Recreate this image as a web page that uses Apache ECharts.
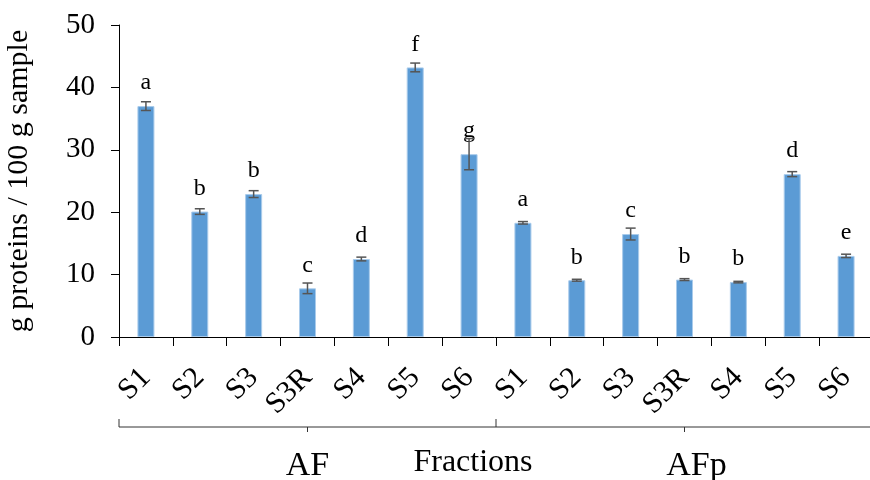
<!DOCTYPE html>
<html><head><meta charset="utf-8">
<script src="https://cdn.jsdelivr.net/npm/echarts@6/dist/echarts.min.js"></script>
<style>html,body{margin:0;padding:0;background:#fff}#c{width:870px;height:480px}</style>
</head><body><div id="c"></div>
<script>
const categories = ['S1','S2','S3','S3R','S4','S5','S6','S1','S2','S3','S3R','S4','S5','S6'];
const groups = ['AF','AFp'];
const groupSize = 7;
const means = [37.0,20.1,22.9,7.8,12.5,43.2,29.3,18.3,9.1,16.5,9.2,8.8,26.1,13.0];
const errors = [0.7,0.45,0.55,0.85,0.3,0.7,2.5,0.2,0.15,0.95,0.15,0.12,0.4,0.27];
const letters = ['a','b','b','c','d','f','g','a','b','c','b','b','d','e'];
const yMin = 0, yMax = 50, yInterval = 10;
const yName = 'g proteins / 100 g sample';
const xName = 'Fractions';

const FONT = '"Liberation Serif", "Times New Roman", serif';
const chart = echarts.init(document.getElementById('c'), null, {renderer:'canvas'});
const errData = means.map((m,i)=>[i,m,errors[i]]);

chart.setOption({
  animation:false,
  backgroundColor:'#fff',
  grid:{left:119, top:25, width:754, height:312, containLabel:false, outerBoundsMode:'none'},
  xAxis:{
    type:'category', data:categories, boundaryGap:true,
    axisLine:{lineStyle:{color:'#000',width:1}},
    axisTick:{show:true, interval:0, length:9, lineStyle:{color:'#000'}},
    axisLabel:{interval:0, rotate:45, margin:36, fontFamily:FONT, fontSize:30, color:'#000'}
  },
  yAxis:{
    type:'value', min:yMin, max:yMax, interval:yInterval,
    name:yName, nameLocation:'middle', nameGap:85,
    nameTextStyle:{fontFamily:FONT, fontSize:30, color:'#000'},
    axisLine:{show:true, lineStyle:{color:'#000',width:1}},
    axisTick:{show:true, length:8, lineStyle:{color:'#000'}},
    splitLine:{show:false},
    axisLabel:{margin:24, fontFamily:FONT, fontSize:29, color:'#000'}
  },
  series:[
    {
      type:'bar', data:means, barWidth:17,
      itemStyle:{color:'#5B9BD5', borderColor:'#A9CBEB', borderWidth:1},
      label:{show:true, position:'top', distance:11, formatter:p=>letters[p.dataIndex],
        fontFamily:FONT, fontSize:24, color:'#000'},
      z:2
    },
    {
      type:'custom', data:errData, z:3,
      renderItem:(params, api)=>{
        const x = api.value(0), m = api.value(1), e = api.value(2);
        const t = api.coord([x, m+e]), b = api.coord([x, m-e]);
        const hw = 5;
        const st = {stroke:'#555', lineWidth:1.5};
        return {type:'group', children:[
          {type:'line', shape:{x1:t[0],y1:t[1],x2:b[0],y2:b[1]}, style:st},
          {type:'line', shape:{x1:t[0]-hw,y1:t[1],x2:t[0]+hw,y2:t[1]}, style:st},
          {type:'line', shape:{x1:b[0]-hw,y1:b[1],x2:b[0]+hw,y2:b[1]}, style:st}
        ]};
      }
    }
  ]
});

// bracket decoration computed from the axis
const c0 = chart.convertToPixel({xAxisIndex:0}, 0);
const c1 = chart.convertToPixel({xAxisIndex:0}, 1);
const bw = c1 - c0;
const left = c0 - bw/2;
const mid = c0 + (groupSize-0.5)*bw;
const right = c0 + (categories.length-0.5)*bw;
const g1 = (left+mid)/2, g2 = (mid+right)/2;
const by = 427;
const ls = {stroke:'#333', lineWidth:1};
chart.setOption({graphic:[
  {type:'line', shape:{x1:left,y1:by,x2:right,y2:by}, style:ls},
  {type:'line', shape:{x1:left,y1:by,x2:left,y2:by-8}, style:ls},
  {type:'line', shape:{x1:mid,y1:by,x2:mid,y2:by-8}, style:ls},
  {type:'line', shape:{x1:right-1,y1:by,x2:right-1,y2:by-8}, style:ls},
  {type:'line', shape:{x1:g1,y1:by,x2:g1,y2:by+5}, style:ls},
  {type:'line', shape:{x1:g2,y1:by,x2:g2,y2:by+5}, style:ls},
  {type:'text', x:g1, y:466, style:{text:groups[0], fontFamily:FONT, fontSize:34, fill:'#000', textAlign:'center', textVerticalAlign:'middle'}},
  {type:'text', x:g2+12, y:466, style:{text:groups[1], fontFamily:FONT, fontSize:34, fill:'#000', textAlign:'center', textVerticalAlign:'middle'}},
  {type:'text', x:mid-23, y:463, style:{text:xName, fontFamily:FONT, fontSize:32, fill:'#000', textAlign:'center', textVerticalAlign:'middle'}}
]});
</script></body></html>
